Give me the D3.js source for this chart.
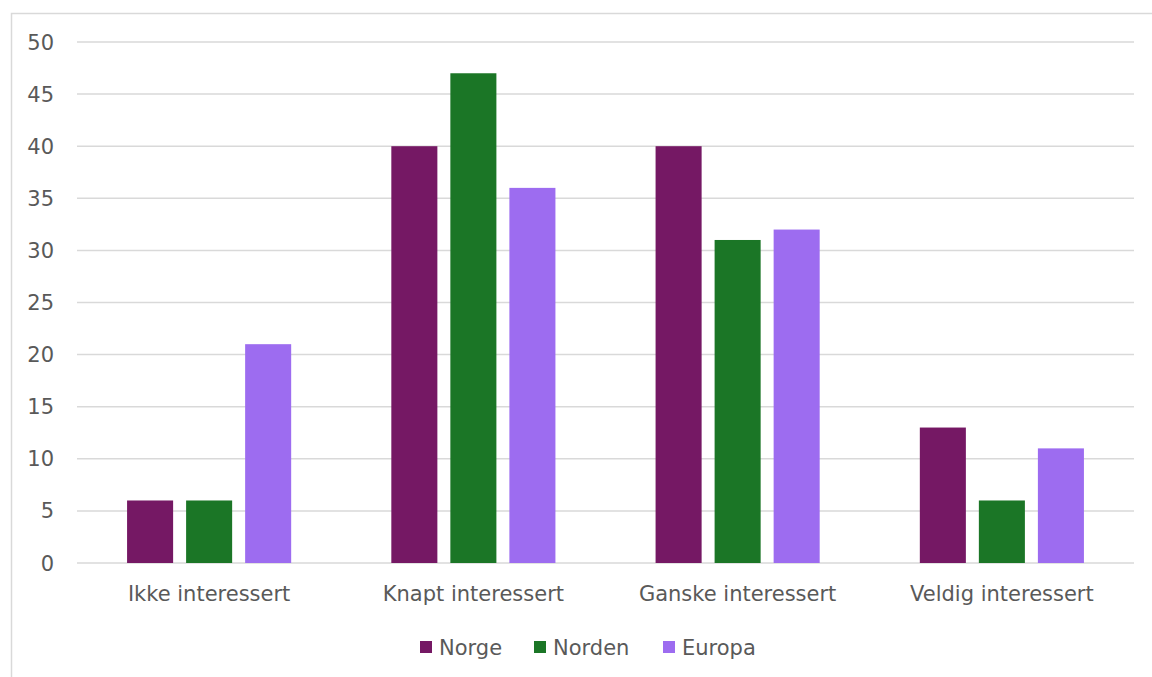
<!DOCTYPE html>
<html><head><meta charset="utf-8">
<script src="https://cdn.jsdelivr.net/npm/d3@7"></script>
<style>body{margin:0;background:#fff}svg{display:block}</style>
</head><body>
<script>
const categories = ["Ikke interessert", "Knapt interessert", "Ganske interessert", "Veldig interessert"];
const seriesNames = ["Norge", "Norden", "Europa"];
const norge = [6, 40, 40, 13];
const norden = [6, 47, 31, 6];
const europa = [21, 36, 32, 11];
const yTicks = [0, 5, 10, 15, 20, 25, 30, 35, 40, 45, 50];
const colors = ["#751864", "#1b7626", "#9d6cf0"];

(function () {
const W = 1152, H = 677;
const values = [norge, norden, europa];
const font = "'DejaVu Sans', sans-serif";
const svg = d3.select("body").append("svg").attr("width", W).attr("height", H);

svg.append("rect").attr("x", 11.5).attr("y", 13.5).attr("width", W).attr("height", H)
  .attr("fill", "none").attr("stroke", "#d9d9d9").attr("stroke-width", 1.5);

const pL = 77, pR = 1134, pT = 42, pB = 563;
const y = d3.scaleLinear().domain([0, 50]).range([pB, pT]);
const x0 = d3.scaleBand().domain(categories).range([pL, pR]).paddingInner(0.379).paddingOuter(0.379 / 2);
const x1 = d3.scaleBand().domain(seriesNames).range([0, x0.bandwidth()]).paddingInner(0.22).paddingOuter(0);

svg.append("g").selectAll("line").data(yTicks).join("line")
  .attr("x1", pL).attr("x2", pR).attr("y1", d => y(d)).attr("y2", d => y(d))
  .attr("stroke", "#d9d9d9").attr("stroke-width", 1.5);

svg.append("g").selectAll("text").data(yTicks).join("text")
  .attr("x", 54).attr("y", d => y(d)).attr("dy", "0.36em").attr("text-anchor", "end")
  .attr("font-family", font).attr("font-size", 21).attr("fill", "#595959").text(d => d);

seriesNames.forEach((s, si) => {
  svg.append("g").selectAll("rect").data(categories).join("rect")
    .attr("x", c => x0(c) + x1(s)).attr("width", x1.bandwidth())
    .attr("y", (c, i) => y(values[si][i])).attr("height", (c, i) => y(0) - y(values[si][i]))
    .attr("fill", colors[si]);
});

svg.append("g").selectAll("text").data(categories).join("text")
  .attr("x", c => x0(c) + x0.bandwidth() / 2).attr("y", 601).attr("text-anchor", "middle")
  .attr("font-family", font).attr("font-size", 21).attr("fill", "#595959").text(c => c);

const legX = [420, 534, 663];
const lg = svg.append("g").selectAll("g").data(seriesNames).join("g")
  .attr("transform", (d, i) => `translate(${legX[i]},647)`);
lg.append("rect").attr("x", 0).attr("y", -6).attr("width", 12).attr("height", 12).attr("fill", (d, i) => colors[i]);
lg.append("text").attr("x", 19).attr("dy", "0.36em").attr("font-family", font).attr("font-size", 21)
  .attr("fill", "#595959").text(d => d);
})();
</script>
</body></html>
